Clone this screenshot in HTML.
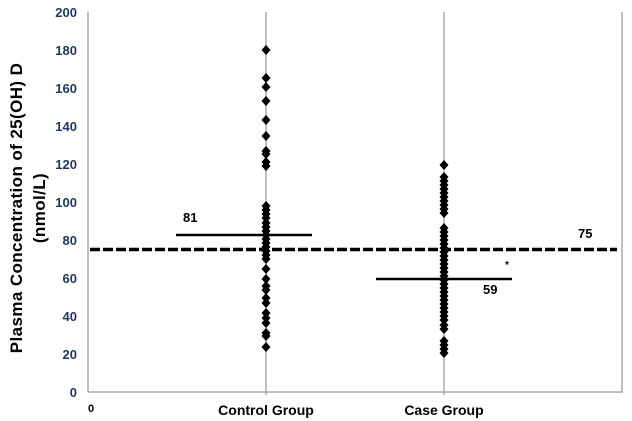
<!DOCTYPE html>
<html><head><meta charset="utf-8"><style>
body{margin:0;background:#fff;width:632px;height:421px;overflow:hidden}
svg{display:block}
.t{font-family:"Liberation Sans",sans-serif;font-weight:bold;font-size:13px;fill:#1f3864}
.c{font-family:"Liberation Sans",sans-serif;font-weight:bold;font-size:13px;fill:#000}
</style></head><body>
<svg width="632" height="421" viewBox="0 0 632 421">
<defs><path id="d" d="M0,-5 L4.5,0 L0,5 L-4.5,0Z" fill="#000"/></defs>
<line x1="88" y1="12" x2="88" y2="392" stroke="#aaa" stroke-width="1.5"/>
<line x1="88" y1="392" x2="623" y2="392" stroke="#aaa" stroke-width="1.5"/>
<line x1="622" y1="12" x2="622" y2="392" stroke="#aaa" stroke-width="1.5"/>
<line x1="266" y1="12" x2="266" y2="395" stroke="#aaa" stroke-width="1.5"/>
<line x1="444" y1="12" x2="444" y2="395" stroke="#aaa" stroke-width="1.5"/>
<g text-anchor="end">
<text class="t" x="77" y="17">200</text><text class="t" x="77" y="55">180</text>
<text class="t" x="77" y="93">160</text><text class="t" x="77" y="131">140</text>
<text class="t" x="77" y="169">120</text><text class="t" x="77" y="207">100</text>
<text class="t" x="77" y="245">80</text><text class="t" x="77" y="283">60</text>
<text class="t" x="77" y="321">40</text><text class="t" x="77" y="359">20</text>
<text class="t" x="77" y="397">0</text>
</g>
<text class="c" x="88" y="412" style="font-size:11px">0</text>
<text class="c" x="266" y="415" text-anchor="middle" style="font-size:14px">Control Group</text>
<text class="c" x="444" y="415" text-anchor="middle" style="font-size:14px">Case Group</text>
<text class="c" transform="translate(22,208) rotate(-90)" text-anchor="middle" style="font-size:17px;letter-spacing:0.4px">Plasma  Concentration of 25(OH) D</text>
<text class="c" transform="translate(45,208) rotate(-90)" text-anchor="middle" style="font-size:17px;letter-spacing:0.4px">(nmol/L)</text>
<g>
<use href="#d" x="266" y="50"/><use href="#d" x="266" y="78"/><use href="#d" x="266" y="87"/>
<use href="#d" x="266" y="101"/><use href="#d" x="266" y="120"/><use href="#d" x="266" y="136"/>
<use href="#d" x="266" y="151"/><use href="#d" x="266" y="154"/><use href="#d" x="266" y="162"/>
<use href="#d" x="266" y="166"/>
<use href="#d" x="266" y="206"/><use href="#d" x="266" y="210"/><use href="#d" x="266" y="214"/>
<use href="#d" x="266" y="218"/><use href="#d" x="266" y="223"/><use href="#d" x="266" y="227"/>
<use href="#d" x="266" y="231"/><use href="#d" x="266" y="235"/><use href="#d" x="266" y="239"/>
<use href="#d" x="266" y="243"/><use href="#d" x="266" y="247"/><use href="#d" x="266" y="251"/>
<use href="#d" x="266" y="255"/><use href="#d" x="266" y="259"/>
<use href="#d" x="266" y="269"/><use href="#d" x="266" y="279"/><use href="#d" x="266" y="286"/>
<use href="#d" x="266" y="290"/><use href="#d" x="266" y="298"/><use href="#d" x="266" y="303"/>
<use href="#d" x="266" y="313"/><use href="#d" x="266" y="318"/><use href="#d" x="266" y="323"/>
<use href="#d" x="266" y="333"/><use href="#d" x="266" y="336"/><use href="#d" x="266" y="347"/>
</g>
<g>
<use href="#d" x="444" y="165"/>
<use href="#d" x="444" y="177"/><use href="#d" x="444" y="181"/><use href="#d" x="444" y="185"/>
<use href="#d" x="444" y="189"/><use href="#d" x="444" y="193"/><use href="#d" x="444" y="197"/>
<use href="#d" x="444" y="201"/><use href="#d" x="444" y="205"/><use href="#d" x="444" y="209"/>
<use href="#d" x="444" y="213"/>
<use href="#d" x="444" y="228"/><use href="#d" x="444" y="232"/><use href="#d" x="444" y="236"/>
<use href="#d" x="444" y="240"/><use href="#d" x="444" y="244"/><use href="#d" x="444" y="248"/>
<use href="#d" x="444" y="252"/><use href="#d" x="444" y="256"/><use href="#d" x="444" y="260"/>
<use href="#d" x="444" y="264"/><use href="#d" x="444" y="268"/><use href="#d" x="444" y="272"/>
<use href="#d" x="444" y="276"/><use href="#d" x="444" y="280"/><use href="#d" x="444" y="284"/>
<use href="#d" x="444" y="288"/><use href="#d" x="444" y="292"/><use href="#d" x="444" y="296"/>
<use href="#d" x="444" y="300"/><use href="#d" x="444" y="304"/><use href="#d" x="444" y="308"/>
<use href="#d" x="444" y="312"/><use href="#d" x="444" y="316"/><use href="#d" x="444" y="320"/>
<use href="#d" x="444" y="325"/><use href="#d" x="444" y="329"/>
<use href="#d" x="444" y="341"/><use href="#d" x="444" y="345"/><use href="#d" x="444" y="349"/>
<use href="#d" x="444" y="353"/>
</g>
<line x1="90" y1="249.5" x2="617" y2="249.5" stroke="#000" stroke-width="3.5" stroke-dasharray="10,3"/>
<line x1="176" y1="235" x2="312" y2="235" stroke="#000" stroke-width="2.5"/>
<line x1="376" y1="279" x2="512" y2="279" stroke="#000" stroke-width="2.5"/>
<text class="c" x="183" y="222">81</text>
<text class="c" x="483" y="294">59</text>
<text class="c" x="578" y="238">75</text>
<text class="c" x="505" y="268" style="font-size:10px">*</text>
</svg>
</body></html>
